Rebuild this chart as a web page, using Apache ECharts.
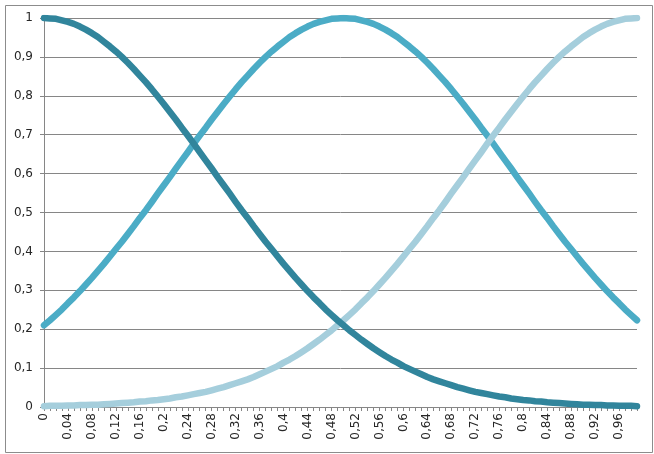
<!DOCTYPE html>
<html>
<head>
<meta charset="utf-8">
<script src="https://cdn.jsdelivr.net/npm/echarts@6/dist/echarts.min.js"></script>
<style>
html,body{margin:0;padding:0;background:#fff;}
#c{width:654px;height:454px;}
</style>
</head>
<body>
<div id="c"></div>
<script>
const categories = ["0","0,01","0,02","0,03","0,04","0,05","0,06","0,07","0,08","0,09",
"0,1","0,11","0,12","0,13","0,14","0,15","0,16","0,17","0,18","0,19",
"0,2","0,21","0,22","0,23","0,24","0,25","0,26","0,27","0,28","0,29",
"0,3","0,31","0,32","0,33","0,34","0,35","0,36","0,37","0,38","0,39",
"0,4","0,41","0,42","0,43","0,44","0,45","0,46","0,47","0,48","0,49",
"0,5","0,51","0,52","0,53","0,54","0,55","0,56","0,57","0,58","0,59",
"0,6","0,61","0,62","0,63","0,64","0,65","0,66","0,67","0,68","0,69",
"0,7","0,71","0,72","0,73","0,74","0,75","0,76","0,77","0,78","0,79",
"0,8","0,81","0,82","0,83","0,84","0,85","0,86","0,87","0,88","0,89",
"0,9","0,91","0,92","0,93","0,94","0,95","0,96","0,97","0,98","0,99"];

const darkSeries = [1,0.999,0.998,0.994,0.990,0.985,0.978,0.970,0.961,0.951,
0.939,0.927,0.914,0.900,0.885,0.869,0.852,0.835,0.817,0.798,
0.779,0.759,0.739,0.718,0.698,0.677,0.655,0.634,0.613,0.591,
0.570,0.549,0.527,0.506,0.486,0.465,0.445,0.425,0.406,0.387,
0.368,0.350,0.332,0.315,0.298,0.282,0.267,0.251,0.237,0.223,
0.210,0.197,0.185,0.173,0.162,0.151,0.141,0.131,0.122,0.114,
0.105,0.098,0.091,0.084,0.077,0.071,0.066,0.061,0.056,0.051,
0.047,0.043,0.039,0.036,0.033,0.030,0.027,0.025,0.022,0.020,
0.018,0.017,0.015,0.014,0.012,0.011,0.010,0.009,0.008,0.007,
0.006,0.006,0.005,0.005,0.004,0.004,0.003,0.003,0.003,0.002];

const middleSeries = [0.210,0.223,0.237,0.251,0.267,0.282,0.298,0.315,0.332,0.350,
0.368,0.387,0.406,0.425,0.445,0.465,0.486,0.506,0.527,0.549,
0.570,0.591,0.613,0.634,0.655,0.677,0.698,0.718,0.739,0.759,
0.779,0.798,0.817,0.835,0.852,0.869,0.885,0.900,0.914,0.927,
0.939,0.951,0.961,0.970,0.978,0.985,0.990,0.994,0.998,0.999,
1,0.999,0.998,0.994,0.990,0.985,0.978,0.970,0.961,0.951,
0.939,0.927,0.914,0.900,0.885,0.869,0.852,0.835,0.817,0.798,
0.779,0.759,0.739,0.718,0.698,0.677,0.655,0.634,0.613,0.591,
0.570,0.549,0.527,0.506,0.486,0.465,0.445,0.425,0.406,0.387,
0.368,0.350,0.332,0.315,0.298,0.282,0.267,0.251,0.237,0.223];

const lightSeries = [0.002,0.003,0.003,0.003,0.004,0.004,0.005,0.005,0.006,0.006,
0.007,0.008,0.009,0.010,0.011,0.012,0.014,0.015,0.017,0.018,
0.020,0.022,0.025,0.027,0.030,0.033,0.036,0.039,0.043,0.047,
0.051,0.056,0.061,0.066,0.071,0.077,0.084,0.091,0.098,0.105,
0.114,0.122,0.131,0.141,0.151,0.162,0.173,0.185,0.197,0.210,
0.223,0.237,0.251,0.267,0.282,0.298,0.315,0.332,0.350,0.368,
0.387,0.406,0.425,0.445,0.465,0.486,0.506,0.527,0.549,0.570,
0.591,0.613,0.634,0.655,0.677,0.698,0.718,0.739,0.759,0.779,
0.798,0.817,0.835,0.852,0.869,0.885,0.900,0.914,0.927,0.939,
0.951,0.961,0.970,0.978,0.985,0.990,0.994,0.998,0.999,1];

const chart = echarts.init(document.getElementById('c'), null, {renderer: 'canvas'});
const lineStyleBase = {width: 6.5, cap: 'round', join: 'round'};
chart.setOption({
  animation: false,
  backgroundColor: '#ffffff',
  graphic: [{
    type: 'rect', left: 3, top: 3,
    shape: {width: 647, height: 447},
    style: {fill: 'none', stroke: '#8c8c8c', lineWidth: 1},
    silent: true
  }],
  grid: {left: 44, top: 18, right: 17, bottom: 47, containLabel: false},
  xAxis: {
    type: 'category',
    data: categories,
    boundaryGap: false,
    axisLine: {lineStyle: {color: '#868686', width: 1}},
    axisTick: {show: true, interval: 0, length: 4, lineStyle: {color: '#868686'}},
    axisLabel: {interval: 3, rotate: 90, margin: 6, color: '#262626', fontFamily: 'DejaVu Sans', fontSize: 12},
    splitLine: {show: false}
  },
  yAxis: {
    type: 'value',
    min: 0, max: 1, interval: 0.1,
    axisLine: {show: true, lineStyle: {color: '#868686', width: 1}},
    axisTick: {show: true, length: 4, lineStyle: {color: '#868686'}},
    axisLabel: {
      margin: 11, color: '#262626', fontFamily: 'DejaVu Sans', fontSize: 12,
      formatter: v => (Math.round(v * 10) / 10).toString().replace('.', ',')
    },
    splitLine: {lineStyle: {color: '#868686', width: 1}}
  },
  series: [
    {type: 'line', data: middleSeries, symbol: 'none', z: 2,
     lineStyle: Object.assign({color: '#4BACC6'}, lineStyleBase)},
    {type: 'line', data: lightSeries, symbol: 'none', z: 3,
     lineStyle: Object.assign({color: '#A5CEDC'}, lineStyleBase)},
    {type: 'line', data: darkSeries, symbol: 'none', z: 4,
     lineStyle: Object.assign({color: '#31859C'}, lineStyleBase)}
  ]
});
</script>
</body>
</html>
